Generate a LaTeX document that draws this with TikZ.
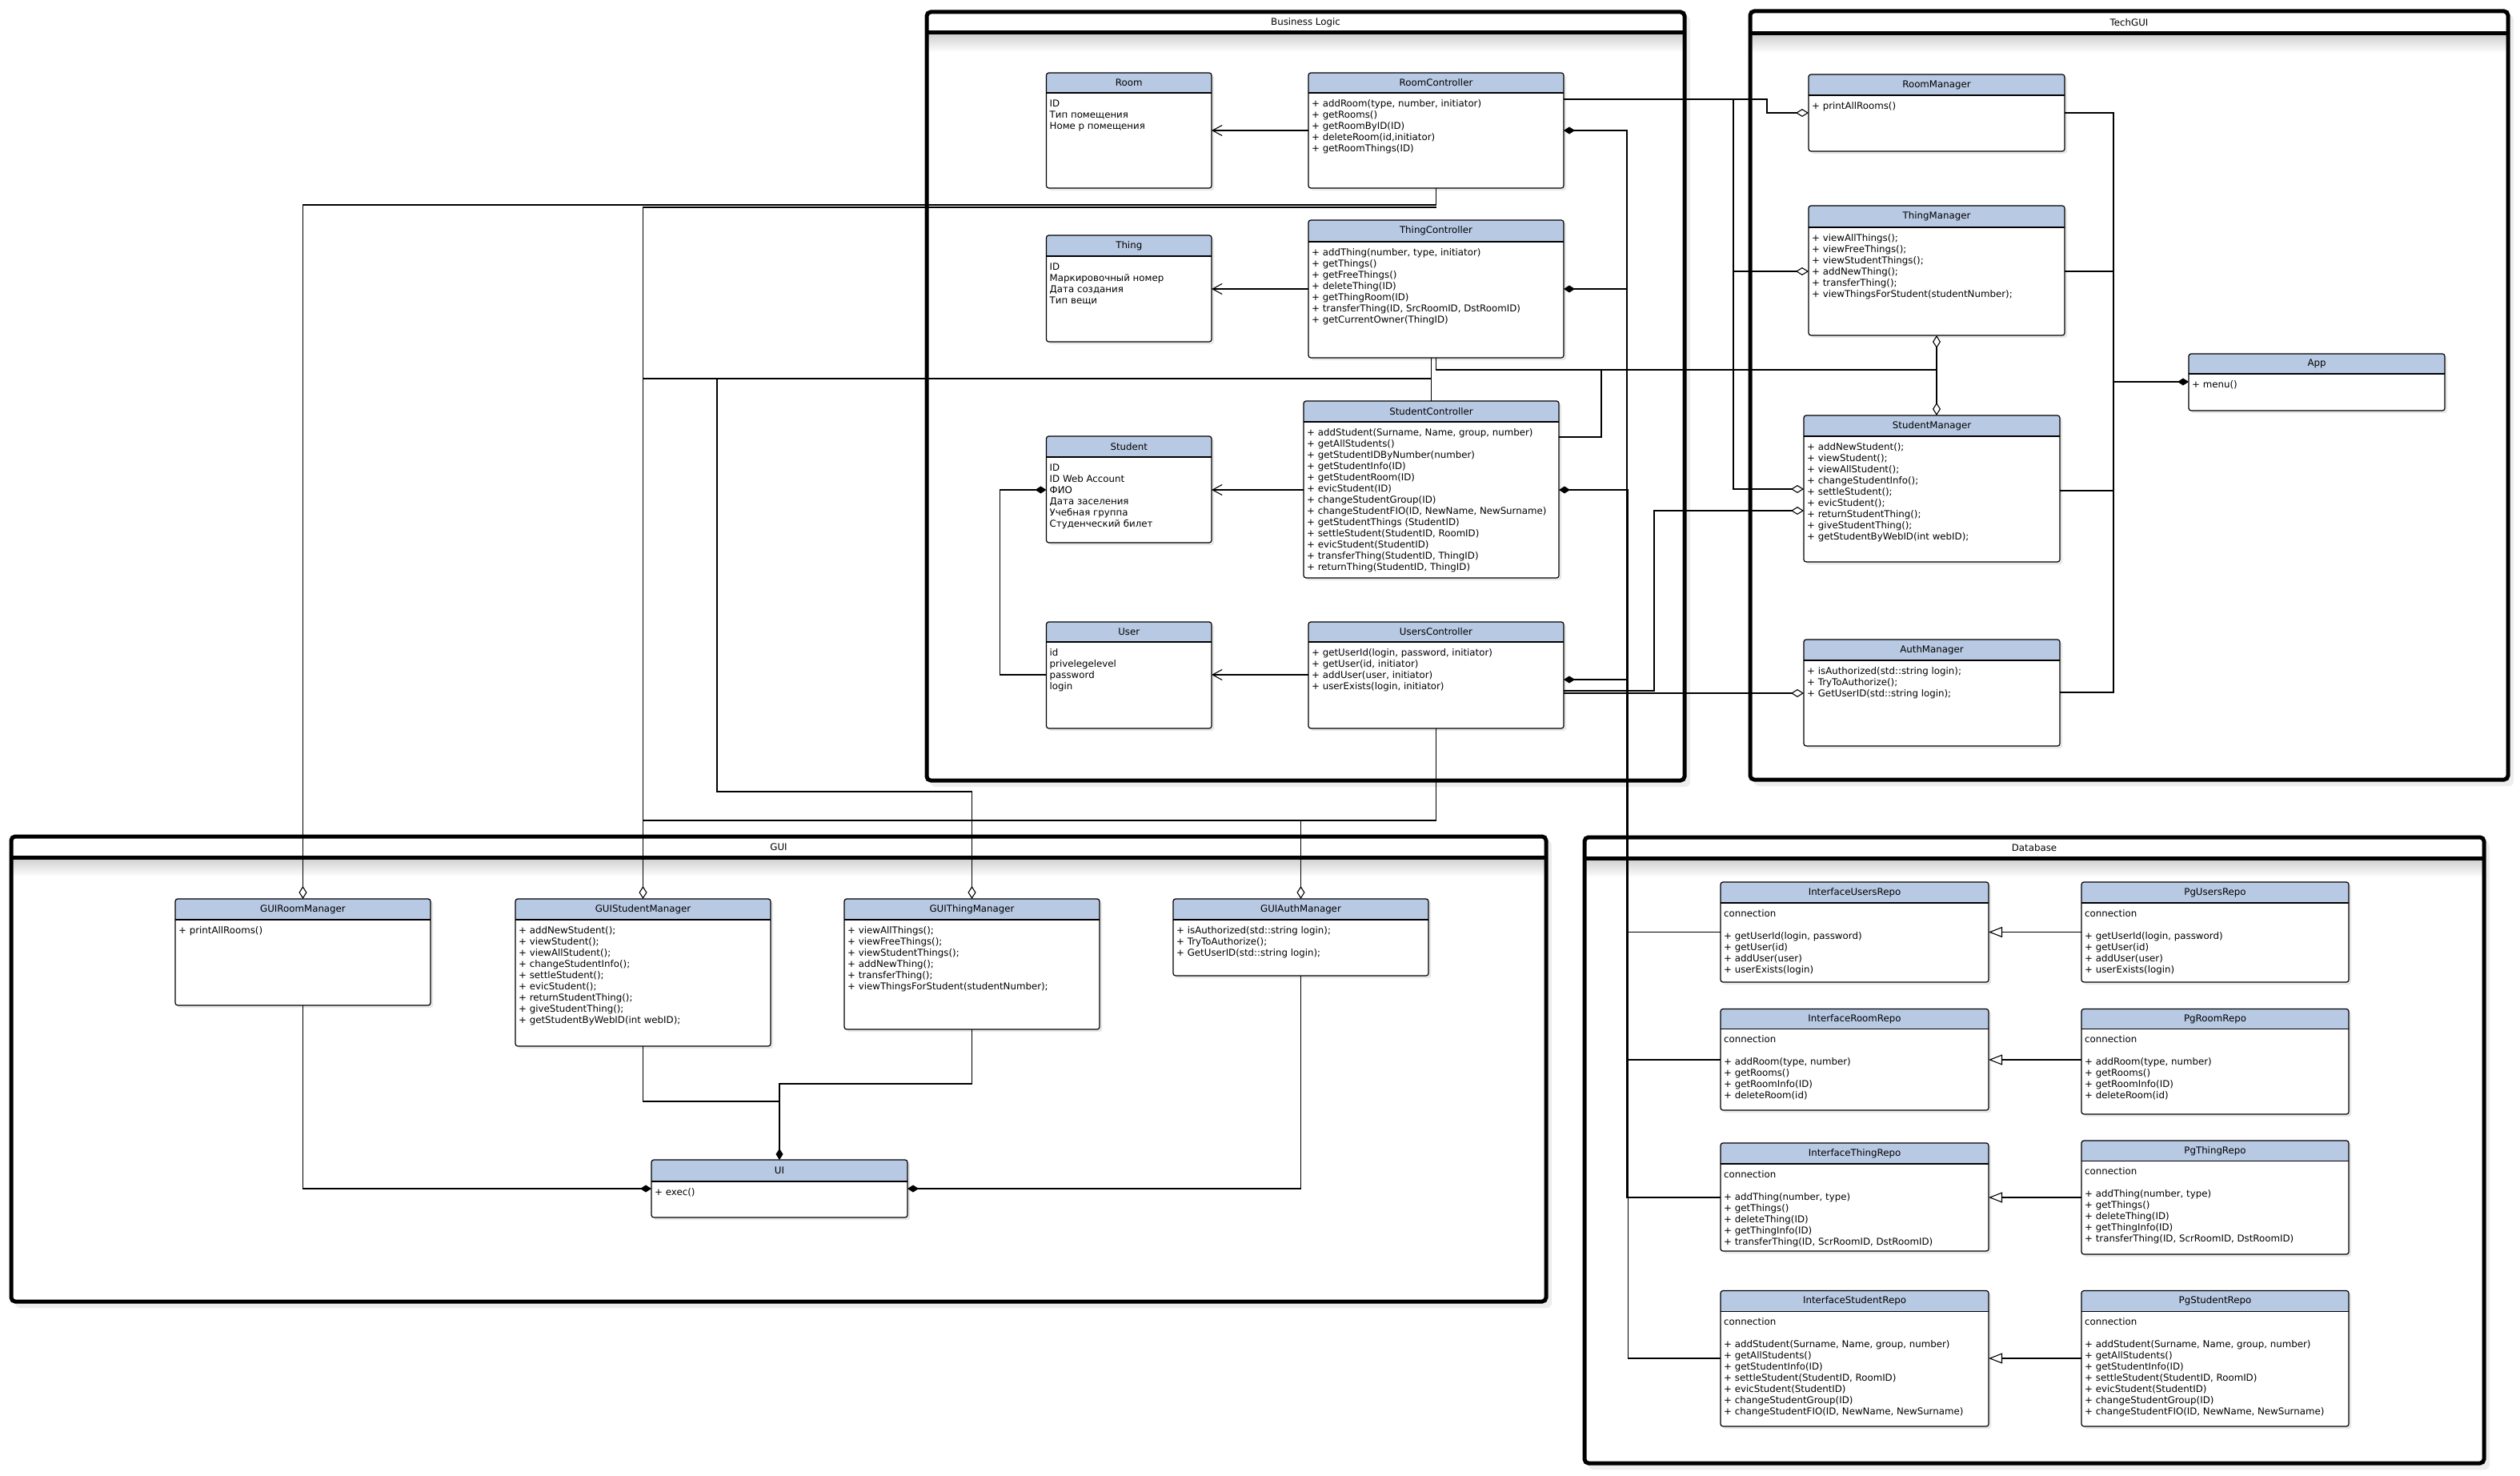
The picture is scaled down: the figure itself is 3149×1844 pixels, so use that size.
\documentclass[tikz,border=0pt]{standalone}
\usepackage{fontspec}
\setmainfont{DejaVu Sans}
\usetikzlibrary{arrows.meta}
\definecolor{hdr}{RGB}{184,201,227}
\newcommand\fbody{\fontsize{11.8}{14}\selectfont}
\tikzset{
  cmpd/.tip={Diamond[length=14pt,width=9pt]},
  aggd/.tip={Diamond[open,length=16pt,width=10pt,fill=white]},
  gent/.tip={Triangle[open,length=17pt,width=13pt,fill=white]},
  depb/.tip={Straight Barb[length=12pt,width=13pt]},
  conn/.style={line width=1.1pt, draw=black},
  clsnode/.style={fill=white, inner sep=0pt, outer sep=0pt, rounded corners=3pt},
}
% name x1 y1 x2 y2 hdrbottom title body
\newcommand\umlcls[8]{%
  \fill[black!9, rounded corners=3pt] (#2+3,#3+3) rectangle (#4+3,#5+3);
  \node[clsnode, minimum width={#4-#2}, minimum height={#5-#3}] (#1) at ({(#2+#4)/2},{(#3+#5)/2}) {};
  \begin{scope}
    \clip[rounded corners=3pt] (#2,#3) rectangle (#4,#5);
    \fill[hdr] (#2,#3) rectangle (#4,#6);
  \end{scope}
  \draw[line width=1.6pt] (#2,#6) -- (#4,#6);
  \draw[line width=1.2pt, rounded corners=3pt] (#2,#3) rectangle (#4,#5);
  \node[font=\fbody, inner sep=0pt] (#1-t) at ({(#2+#4)/2},{(#3+#6)/2}) {#7};
  \node[anchor=north west, align=left, inner sep=0pt, font=\fbody] (#1-b) at (#2+4,#6+7) {\rule{0pt}{10pt}#8};
}
% name x1 y1 x2 y2 hdrline title
\newcommand\umlfrm[7]{%
  \fill[black!7, rounded corners=6pt] (#2+5,#3+5) rectangle (#4+7,#5+8);
  \node[fill=white, inner sep=0pt, outer sep=0pt, minimum width={#4-#2}, minimum height={#5-#3}] (#1) at ({(#2+#4)/2},{(#3+#5)/2}) {};
  \shade[top color=black!20, bottom color=white] (#2,#6) rectangle (#4,#6+24);
  \draw[line width=5pt] (#2,#6) -- (#4,#6);
  \draw[line width=5pt, rounded corners=5pt] (#2,#3) rectangle (#4,#5);
  \node[font=\fbody, inner sep=0pt] (#1-t) at ({(#2+#4)/2},{(#3+#6)/2}) {#7};
}
\begin{document}
\begin{tikzpicture}[x=1pt,y=-1pt]
\useasboundingbox (0,0) rectangle (3149,1844);
\fill[white] (0,0) rectangle (3149,1844);

% ---------- frames ----------
\umlfrm{BL}{1158}{15}{2105}{975}{41}{Business Logic}
\umlfrm{TG}{2187}{14}{3134}{974}{42}{TechGUI}
\umlfrm{GUI}{14}{1045}{1932}{1626}{1071}{GUI}
\umlfrm{DB}{1980}{1046}{3104}{1828}{1072}{Database}

% ---------- Business Logic ----------
\umlcls{Room}{1307.5}{91}{1514}{235}{116}{Room}{ID\\Тип помещения\\Номе р помещения}
\umlcls{RoomCtl}{1635}{91}{1954}{235}{116}{RoomController}{+ addRoom(type, number, initiator)\\+ getRooms()\\+ getRoomByID(ID)\\+ deleteRoom(id,initiator)\\+ getRoomThings(ID)}
\umlcls{Thing}{1307.5}{294}{1514}{427}{320}{Thing}{ID\\Маркировочный номер\\Дата создания\\Тип вещи}
\umlcls{ThingCtl}{1635}{275}{1954}{447}{302}{ThingController}{+ addThing(number, type, initiator)\\+ getThings()\\+ getFreeThings()\\+ deleteThing(ID)\\+ getThingRoom(ID)\\+ transferThing(ID, SrcRoomID, DstRoomID)\\+ getCurrentOwner(ThingID)}
\umlcls{Student}{1307.5}{545}{1514}{678}{571}{Student}{ID\\ID Web Account\\ФИО\\Дата заселения\\Учебная группа\\Студенческий билет}
\umlcls{StudentCtl}{1629}{501}{1948}{722}{527}{StudentController}{+ addStudent(Surname, Name, group, number)\\+ getAllStudents()\\+ getStudentIDByNumber(number)\\+ getStudentInfo(ID)\\+ getStudentRoom(ID)\\+ evicStudent(ID)\\+ changeStudentGroup(ID)\\+ changeStudentFIO(ID, NewName, NewSurname)\\+ getStudentThings (StudentID)\\+ settleStudent(StudentID, RoomID)\\+ evicStudent(StudentID)\\+ transferThing(StudentID, ThingID)\\+ returnThing(StudentID, ThingID)}
\umlcls{User}{1307.5}{777}{1514}{910}{802}{User}{id\\privelegelevel\\password\\login}
\umlcls{UsersCtl}{1635}{777}{1954}{910}{802}{UsersController}{+ getUserId(login, password, initiator)\\+ getUser(id, initiator)\\+ addUser(user, initiator)\\+ userExists(login, initiator)}

% ---------- TechGUI ----------
\umlcls{RoomMgr}{2260}{93}{2580}{189}{119}{RoomManager}{+ printAllRooms()}
\umlcls{ThingMgr}{2260}{257}{2580}{419}{284}{ThingManager}{+ viewAllThings();\\+ viewFreeThings();\\+ viewStudentThings();\\+ addNewThing();\\+ transferThing();\\+ viewThingsForStudent(studentNumber);}
\umlcls{StudentMgr}{2254}{519}{2574}{702}{545}{StudentManager}{+ addNewStudent();\\+ viewStudent();\\+ viewAllStudent();\\+ changeStudentInfo();\\+ settleStudent();\\+ evicStudent();\\+ returnStudentThing();\\+ giveStudentThing();\\+ getStudentByWebID(int webID);}
\umlcls{AuthMgr}{2254}{799}{2574}{932}{825}{AuthManager}{+ isAuthorized(std::string login);\\+ TryToAuthorize();\\+ GetUserID(std::string login);}
\umlcls{App}{2735}{442}{3055}{513}{467}{App}{+ menu()}

% ---------- GUI ----------
\umlcls{GUIRoomMgr}{219}{1123}{538}{1256}{1149}{GUIRoomManager}{+ printAllRooms()}
\umlcls{GUIStudentMgr}{644}{1123}{963}{1307}{1149}{GUIStudentManager}{+ addNewStudent();\\+ viewStudent();\\+ viewAllStudent();\\+ changeStudentInfo();\\+ settleStudent();\\+ evicStudent();\\+ returnStudentThing();\\+ giveStudentThing();\\+ getStudentByWebID(int webID);}
\umlcls{GUIThingMgr}{1055}{1123}{1374}{1286}{1149}{GUIThingManager}{+ viewAllThings();\\+ viewFreeThings();\\+ viewStudentThings();\\+ addNewThing();\\+ transferThing();\\+ viewThingsForStudent(studentNumber);}
\umlcls{GUIAuthMgr}{1466}{1123}{1785}{1219}{1149}{GUIAuthManager}{+ isAuthorized(std::string login);\\+ TryToAuthorize();\\+ GetUserID(std::string login);}
\umlcls{UI}{814}{1449}{1134}{1521}{1476}{UI}{+ exec()}

% ---------- Database ----------
\umlcls{IUsersRepo}{2150}{1102}{2485}{1227}{1128}{InterfaceUsersRepo}{connection\\[14pt]+ getUserId(login, password)\\+ getUser(id)\\+ addUser(user)\\+ userExists(login)}
\umlcls{PgUsersRepo}{2601}{1102}{2935}{1227}{1128}{PgUsersRepo}{connection\\[14pt]+ getUserId(login, password)\\+ getUser(id)\\+ addUser(user)\\+ userExists(login)}
\umlcls{IRoomRepo}{2150}{1260.5}{2485}{1387}{1285.5}{InterfaceRoomRepo}{connection\\[14pt]+ addRoom(type, number)\\+ getRooms()\\+ getRoomInfo(ID)\\+ deleteRoom(id)}
\umlcls{PgRoomRepo}{2601}{1260.5}{2935}{1392}{1285.5}{PgRoomRepo}{connection\\[14pt]+ addRoom(type, number)\\+ getRooms()\\+ getRoomInfo(ID)\\+ deleteRoom(id)}
\umlcls{IThingRepo}{2150}{1428}{2485}{1563}{1454}{InterfaceThingRepo}{connection\\[14pt]+ addThing(number, type)\\+ getThings()\\+ deleteThing(ID)\\+ getThingInfo(ID)\\+ transferThing(ID, ScrRoomID, DstRoomID)}
\umlcls{PgThingRepo}{2601}{1425}{2935}{1567}{1450.5}{PgThingRepo}{connection\\[14pt]+ addThing(number, type)\\+ getThings()\\+ deleteThing(ID)\\+ getThingInfo(ID)\\+ transferThing(ID, ScrRoomID, DstRoomID)}
\umlcls{IStudentRepo}{2150}{1612.5}{2485}{1782}{1638.5}{InterfaceStudentRepo}{connection\\[14pt]+ addStudent(Surname, Name, group, number)\\+ getAllStudents()\\+ getStudentInfo(ID)\\+ settleStudent(StudentID, RoomID)\\+ evicStudent(StudentID)\\+ changeStudentGroup(ID)\\+ changeStudentFIO(ID, NewName, NewSurname)}
\umlcls{PgStudentRepo}{2601}{1612.5}{2935}{1782}{1638.5}{PgStudentRepo}{connection\\[14pt]+ addStudent(Surname, Name, group, number)\\+ getAllStudents()\\+ getStudentInfo(ID)\\+ settleStudent(StudentID, RoomID)\\+ evicStudent(StudentID)\\+ changeStudentGroup(ID)\\+ changeStudentFIO(ID, NewName, NewSurname)}

% ---------- connectors: Business Logic ----------
\draw[conn,-depb] (RoomCtl.west |- 0,163) -- (Room.east |- 0,163);
\draw[conn,-depb] (ThingCtl.west |- 0,361) -- (Thing.east |- 0,361);
\draw[conn,-depb] (StudentCtl.west |- 0,612) -- (Student.east |- 0,612);
\draw[conn,-depb] (UsersCtl.west |- 0,843) -- (User.east |- 0,843);
\draw[conn,-cmpd] (User.west |- 0,843) -- (1249.5,843) -- (1249.5,612) -- (Student.west |- 0,612);

% controllers -> database
\draw[conn,cmpd-] (RoomCtl.east |- 0,163) -- (2033,163) -- (2033,1324) -- (IRoomRepo.west |- 0,1324);
\draw[conn,cmpd-] (ThingCtl.east |- 0,361) -- (2033,361) -- (2033,1496) -- (IThingRepo.west |- 0,1496);
\draw[conn,cmpd-] (StudentCtl.east |- 0,612) -- (2034.5,612) -- (2034.5,1697) -- (IStudentRepo.west |- 0,1697);
\draw[conn,cmpd-] (UsersCtl.east |- 0,849) -- (2033,849) -- (2033,1164.5) -- (IUsersRepo.west |- 0,1164.5);

% controllers -> TechGUI
\coordinate (jR) at (2166,124);
\coordinate (jR2) at (2166,339);
\draw[conn,-aggd] (RoomCtl.east |- 0,124) -- (2208,124) -- (2208,141) -- (RoomMgr.west |- 0,141);
\draw[conn,-aggd] (jR) -- (jR2) -- (ThingMgr.west |- jR2);
\draw[conn,-aggd] (jR2) -- (2166,611) -- (StudentMgr.west |- 0,611);

\coordinate (jT) at (ThingMgr.south |- 0,462);
\draw[conn,-aggd] (ThingCtl.south) -- (ThingCtl.south |- jT) -- (jT) -- (ThingMgr.south);
\draw[conn,-aggd] (jT) -- (StudentMgr.north -| jT);
\draw[conn] (StudentCtl.east |- 0,546) -- (2001,546) -- (2001,462);
\draw[conn] (StudentCtl.north) -- (StudentCtl.north |- ThingCtl.south);

\draw[conn,-aggd] (UsersCtl.east |- 0,863) -- (2067,863) -- (2067,638) -- (StudentMgr.west |- 0,638);
\draw[conn,-aggd] (UsersCtl.east |- 0,866) -- (AuthMgr.west |- 0,866);

% TechGUI -> App
\coordinate (jA) at (2641,477);
\draw[conn] (RoomMgr.east |- 0,141) -- (2641,141) -- (2641,865) -- (AuthMgr.east |- 0,865);
\draw[conn] (ThingMgr.east |- 0,339) -- (2641,339);
\draw[conn] (StudentMgr.east |- 0,613) -- (2641,613);
\draw[conn,-cmpd] (jA) -- (App.west |- jA);

% GUI <-> Business Logic
\draw[conn,aggd-] (GUIRoomMgr.north) -- (GUIRoomMgr.north |- 0,256) -- (RoomCtl.south |- 0,256) -- (RoomCtl.south);
\draw[conn,aggd-] (GUIStudentMgr.north) -- (GUIStudentMgr.north |- 0,259) -- (RoomCtl.south |- 0,259);
\draw[conn] (GUIStudentMgr.north |- 0,473) -- (StudentCtl.north |- 0,473);
\draw[conn] (GUIStudentMgr.north |- 0,1025) -- (UsersCtl.south |- 0,1025) -- (UsersCtl.south);
\draw[conn,aggd-] (GUIThingMgr.north) -- (GUIThingMgr.north |- 0,989) -- (896,989) -- (896,473);
\draw[conn,aggd-] (GUIAuthMgr.north) -- (GUIAuthMgr.north |- 0,1025);

% GUI internal
\coordinate (jU) at (UI.north |- 0,1376);
\draw[conn,-cmpd] (GUIStudentMgr.south) -- (GUIStudentMgr.south |- jU) -- (jU) -- (UI.north);
\draw[conn] (GUIThingMgr.south) -- (GUIThingMgr.south |- 0,1354) -- (UI.north |- 0,1354) -- (jU);
\draw[conn,-cmpd] (GUIRoomMgr.south) -- (GUIRoomMgr.south |- 0,1485) -- (UI.west |- 0,1485);
\draw[conn,-cmpd] (GUIAuthMgr.south) -- (GUIAuthMgr.south |- 0,1485) -- (UI.east |- 0,1485);

% Database generalisations
\draw[conn,-gent] (PgUsersRepo.west |- 0,1164.5) -- (IUsersRepo.east |- 0,1164.5);
\draw[conn,-gent] (PgRoomRepo.west |- 0,1324) -- (IRoomRepo.east |- 0,1324);
\draw[conn,-gent] (PgThingRepo.west |- 0,1496) -- (IThingRepo.east |- 0,1496);
\draw[conn,-gent] (PgStudentRepo.west |- 0,1697) -- (IStudentRepo.east |- 0,1697);
\end{tikzpicture}
\end{document}
